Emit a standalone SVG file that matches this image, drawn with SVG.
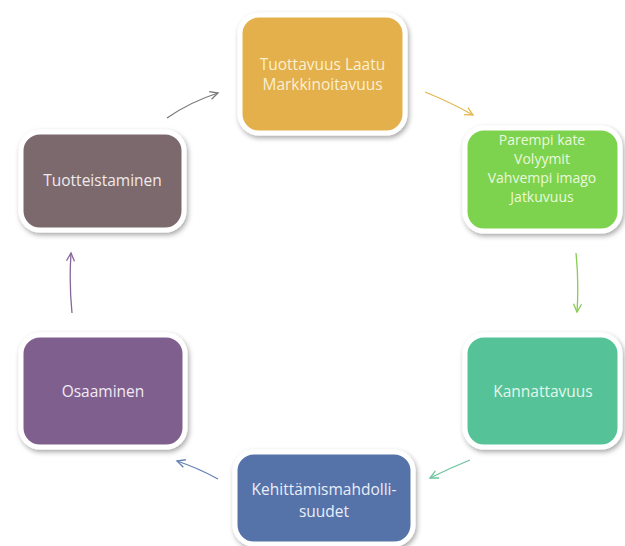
<svg xmlns="http://www.w3.org/2000/svg" width="625" height="546" viewBox="0 0 625 546">
  <defs>
    <filter id="shadow" x="-20%" y="-20%" width="140%" height="140%">
      <feDropShadow dx="1.5" dy="2.5" stdDeviation="2.5" flood-color="#000" flood-opacity="0.35"/>
    </filter>
    <marker id="ah-gray" markerWidth="12" markerHeight="12" refX="9" refY="5" orient="auto" markerUnits="userSpaceOnUse">
      <path d="M1,1 L9,5 L1,9" fill="none" stroke="#7a7a7a" stroke-width="1.3"/>
    </marker>
    <marker id="ah-gold" markerWidth="12" markerHeight="12" refX="9" refY="5" orient="auto" markerUnits="userSpaceOnUse">
      <path d="M1,1 L9,5 L1,9" fill="none" stroke="#e3b94e" stroke-width="1.3"/>
    </marker>
    <marker id="ah-green" markerWidth="12" markerHeight="12" refX="9" refY="5" orient="auto" markerUnits="userSpaceOnUse">
      <path d="M1,1 L9,5 L1,9" fill="none" stroke="#8acb52" stroke-width="1.3"/>
    </marker>
    <marker id="ah-teal" markerWidth="12" markerHeight="12" refX="9" refY="5" orient="auto" markerUnits="userSpaceOnUse">
      <path d="M1,1 L9,5 L1,9" fill="none" stroke="#6cc49c" stroke-width="1.3"/>
    </marker>
    <marker id="ah-blue" markerWidth="12" markerHeight="12" refX="9" refY="5" orient="auto" markerUnits="userSpaceOnUse">
      <path d="M1,1 L9,5 L1,9" fill="none" stroke="#6580b4" stroke-width="1.3"/>
    </marker>
    <marker id="ah-purple" markerWidth="12" markerHeight="12" refX="9" refY="5" orient="auto" markerUnits="userSpaceOnUse">
      <path d="M1,1 L9,5 L1,9" fill="none" stroke="#86679a" stroke-width="1.3"/>
    </marker>
  </defs>
  <style>
    .box { stroke: #ffffff; stroke-width: 5; filter: url(#shadow); }
    .lbl { font-family: "Open Sans", "DejaVu Sans", sans-serif; font-size: 15.5px; text-anchor: middle; }
    .lbl-sm { font-size: 14px; }
    .conn { fill: none; stroke-width: 1.3; }
  </style>
  <rect width="625" height="546" fill="#ffffff"/>

  <g id="connectors">
    <path class="conn" d="M167,118 Q190,102 218,93" stroke="#7a7a7a" marker-end="url(#ah-gray)"/>
    <path class="conn" d="M425,92 Q450,102 473,115" stroke="#e3b94e" marker-end="url(#ah-gold)"/>
    <path class="conn" d="M576,253 Q579,282 577,312" stroke="#8acb52" marker-end="url(#ah-green)"/>
    <path class="conn" d="M470,460 Q450,468 430,478" stroke="#6cc49c" marker-end="url(#ah-teal)"/>
    <path class="conn" d="M218,479 Q198,468 177,461" stroke="#6580b4" marker-end="url(#ah-blue)"/>
    <path class="conn" d="M72,313 Q69,283 71,253" stroke="#86679a" marker-end="url(#ah-purple)"/>
  </g>

  <g id="node-tuottavuus">
    <rect class="box" x="240" y="15" width="165" height="118" rx="19" fill="#e3b04b"/>
    <text class="lbl" fill="#fcefd2" x="322.5" y="70">Tuottavuus Laatu</text>
    <text class="lbl" fill="#fcefd2" x="322.5" y="90">Markkinoitavuus</text>
  </g>

  <g id="node-parempi">
    <rect class="box" x="465" y="128" width="155" height="103" rx="19" fill="#7dd34d"/>
    <text class="lbl lbl-sm" fill="#eaf8dd" x="542" y="144.5">Parempi kate</text>
    <text class="lbl lbl-sm" fill="#eaf8dd" x="542" y="163.5">Volyymit</text>
    <text class="lbl lbl-sm" fill="#eaf8dd" x="542" y="182.5">Vahvempi imago</text>
    <text class="lbl lbl-sm" fill="#eaf8dd" x="542" y="201.5">Jatkuvuus</text>
  </g>

  <g id="node-tuotteistaminen">
    <rect class="box" x="21" y="132" width="163" height="98" rx="19" fill="#7b696d"/>
    <text class="lbl" fill="#f1eaec" x="102.5" y="186">Tuotteistaminen</text>
  </g>

  <g id="node-kannattavuus">
    <rect class="box" x="465" y="335" width="155" height="112" rx="19" fill="#55c397"/>
    <text class="lbl" fill="#e3f6ee" x="543" y="397">Kannattavuus</text>
  </g>

  <g id="node-osaaminen">
    <rect class="box" x="21" y="335" width="164" height="112" rx="19" fill="#7f5f8e"/>
    <text class="lbl" fill="#f2eaf6" x="103" y="397">Osaaminen</text>
  </g>

  <g id="node-kehittamis">
    <rect class="box" x="235" y="452" width="178" height="92" rx="19" fill="#5572a9"/>
    <text class="lbl" fill="#e9eef8" x="324" y="495">Kehittämismahdolli-</text>
    <text class="lbl" fill="#e9eef8" x="324" y="517">suudet</text>
  </g>
</svg>
